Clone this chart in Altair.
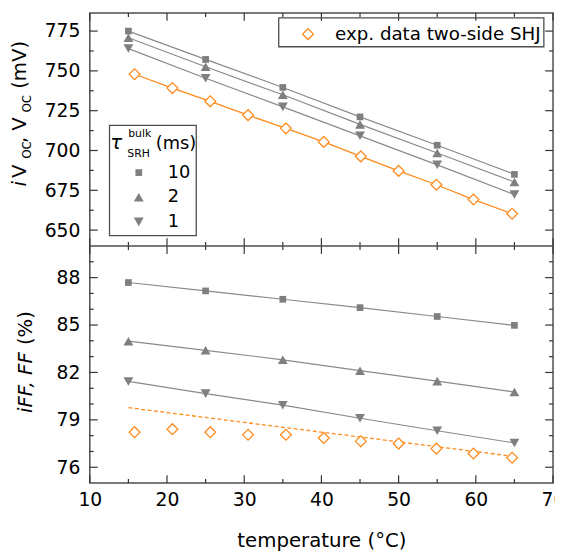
import altair as alt
import pandas as pd

# ---------------- data ----------------
T_SIM = [15, 25, 35, 45, 55, 65]
TAU_LABELS = ["10", "2", "1"]

VOC_10 = [775.0, 757.2, 739.6, 721.1, 703.3, 685.0]
VOC_2 = [770.8, 752.6, 735.0, 716.4, 698.4, 680.2]
VOC_1 = [764.0, 745.4, 727.4, 709.2, 691.0, 672.3]

FF_10 = [87.69, 87.16, 86.63, 86.10, 85.54, 84.98]
FF_2 = [83.98, 83.40, 82.80, 82.11, 81.45, 80.76]
FF_1 = [81.43, 80.66, 79.93, 79.10, 78.31, 77.54]

T_EXP = [15.8, 20.7, 25.6, 30.5, 35.4, 40.3, 45.1, 50.0, 54.9, 59.7, 64.7]
VOC_EXP = [747.9, 739.2, 730.9, 722.2, 713.9, 705.4, 696.3, 687.2, 678.5, 669.2, 660.3]
FF_EXP = [78.22, 78.41, 78.22, 78.06, 78.06, 77.85, 77.64, 77.50, 77.18, 76.87, 76.60]
FF_EXP_SIM = [79.77, 79.15, 78.53, 77.92, 77.30, 76.68]

EXP_LABEL = "exp. data two-side SHJ"

X_MAJOR = [10, 20, 30, 40, 50, 60, 70]
X_MINOR = [15, 25, 35, 45, 55, 65]
VOC_MAJOR = [650, 675, 700, 725, 750, 775]
VOC_MINOR = [662.5, 687.5, 712.5, 737.5, 762.5]
FF_MAJOR = [76, 79, 82, 85, 88]
FF_MINOR = [77, 78, 80, 81, 83, 84, 86, 87, 89]

# ---------------- style / layout ----------------
FONT = "DejaVu Sans"
GRAY = "#7f7f7f"
ORANGE = "#ff8a1c"
FRAME = "#4d4d4d"
TICK = "#333333"
W, H = 470, 477
DIV = 236.5                      # pixel row of the panel divider
TOP_VIS = (640.0, 786.4)         # visible range of the upper panel
BOT_VIS = (75.0, 90.0)           # visible range of the lower panel
TOP_DOMAIN = [TOP_VIS[1] - (TOP_VIS[1] - TOP_VIS[0]) * H / DIV, TOP_VIS[1]]
BOT_DOMAIN = [BOT_VIS[0], BOT_VIS[0] + (BOT_VIS[1] - BOT_VIS[0]) * H / (H - DIV)]
SQUARE = "M-0.68,-0.68H0.68V0.68H-0.68Z"
MAJ, MIN = 8, 4

# ---------------- tables ----------------
def sim_table(arrs, col):
    rows = []
    for lab, arr in zip(TAU_LABELS, arrs):
        for t, v in zip(T_SIM, arr):
            rows.append({"T": t, col: v, "tau": lab})
    return pd.DataFrame(rows)

sim_top = sim_table([VOC_10, VOC_2, VOC_1], "V")
sim_bot = sim_table([FF_10, FF_2, FF_1], "F")
exp_top = pd.DataFrame({"T": T_EXP, "V": VOC_EXP, "src": EXP_LABEL})
exp_bot = pd.DataFrame({"T": T_EXP, "F": FF_EXP})
exp_bot_sim = pd.DataFrame({"T": T_SIM, "F": FF_EXP_SIM})
ONE = pd.DataFrame({"k": [0]})

# ---------------- encodings ----------------
XAXIS = alt.Axis(values=X_MAJOR, format="d", ticks=False, tickSize=0, domain=False, grid=False,
                 labelFont=FONT, labelFontSize=19, labelColor="black", labelPadding=8,
                 labelFlush=False, labelOverlap=False,
                 title="temperature (°C)", titleFont=FONT, titleFontSize=20,
                 titleFontWeight="normal", titleColor="black",
                 titleBaseline="alphabetic", titleY=64)
XSC = alt.Scale(domain=[10, 70], nice=False, zero=False)


def X():
    return alt.X("T:Q", scale=XSC, axis=XAXIS)


def Ytop():
    return alt.Y("V:Q", scale=alt.Scale(domain=TOP_DOMAIN, nice=False, zero=False),
                 axis=alt.Axis(orient="left", values=VOC_MAJOR, format="d", ticks=False, tickSize=0,
                               domain=False, grid=False, labelFont=FONT, labelFontSize=19,
                               labelColor="black", labelPadding=10, title=None))


def Ybot():
    return alt.Y("F:Q", scale=alt.Scale(domain=BOT_DOMAIN, nice=False, zero=False),
                 axis=alt.Axis(orient="left", values=FF_MAJOR, format="d", ticks=False, tickSize=0,
                               domain=False, grid=False, labelFont=FONT, labelFontSize=19,
                               labelColor="black", labelPadding=10, title=None))


SHAPE_SCALE = alt.Scale(domain=TAU_LABELS, range=[SQUARE, "triangle-up", "triangle-down"])
SHAPE_LEGEND = alt.Legend(orient="none", legendX=40.7, legendY=153, title=None, padding=0,
                          labelFont=FONT, labelFontSize=18, labelColor="black",
                          symbolSize=100, symbolFillColor=GRAY, symbolStrokeWidth=0,
                          symbolOffset=0, labelOffset=20.3, rowPadding=7)
EXP_LEGEND = alt.Legend(orient="none", legendX=212.2, legendY=12.25, title=None, padding=0,
                        labelFont=FONT, labelFontSize=18.5, labelColor="black", labelLimit=400,
                        symbolType="diamond", symbolSize=121, symbolFillColor="white",
                        symbolStrokeColor=ORANGE, symbolStrokeWidth=1.3,
                        symbolOffset=0, labelOffset=18.15)

# ---------------- upper panel ----------------
top_layers = [
    alt.Chart(exp_top).mark_line(color=ORANGE, strokeWidth=1.3).encode(x=X(), y=Ytop()),
    alt.Chart(sim_top).mark_line(color="#8a8a8a", strokeWidth=1.2).encode(x=X(), y=Ytop(), detail="tau:N"),
    alt.Chart(exp_top).mark_point(shape="diamond", size=121, filled=True, fill="white",
                                  strokeWidth=1.3, opacity=1).encode(
        x=X(), y=Ytop(),
        stroke=alt.Stroke("src:N", scale=alt.Scale(domain=[EXP_LABEL], range=[ORANGE]), legend=EXP_LEGEND)),
    alt.Chart(sim_top).mark_point(filled=True, size=100, color=GRAY, opacity=1).encode(
        x=X(), y=Ytop(), shape=alt.Shape("tau:N", scale=SHAPE_SCALE, legend=SHAPE_LEGEND)),
]
for vals, ln in [(VOC_MAJOR, MAJ), (VOC_MINOR, MIN)]:
    d = pd.DataFrame({"V": vals})
    top_layers.append(alt.Chart(d).mark_rule(color=TICK, strokeWidth=1.2).encode(
        y=Ytop(), x=alt.value(0), x2=alt.value(ln)))
    top_layers.append(alt.Chart(d).mark_rule(color=TICK, strokeWidth=1.2).encode(
        y=Ytop(), x=alt.value(W), x2=alt.value(W - ln)))
top = alt.layer(*top_layers)

# ---------------- lower panel ----------------
bot_layers = [
    alt.Chart(exp_bot_sim).mark_line(color=ORANGE, strokeWidth=1.3, strokeDash=[4, 2.5]).encode(x=X(), y=Ybot()),
    alt.Chart(sim_bot).mark_line(color="#8a8a8a", strokeWidth=1.2).encode(x=X(), y=Ybot(), detail="tau:N"),
    alt.Chart(exp_bot).mark_point(shape="diamond", size=121, filled=True, fill="white",
                                  stroke=ORANGE, strokeWidth=1.3, opacity=1).encode(x=X(), y=Ybot()),
    alt.Chart(sim_bot).mark_point(filled=True, size=100, color=GRAY, opacity=1).encode(
        x=X(), y=Ybot(), shape=alt.Shape("tau:N", scale=SHAPE_SCALE, legend=SHAPE_LEGEND)),
]
for vals, ln in [(FF_MAJOR, MAJ), (FF_MINOR, MIN)]:
    d = pd.DataFrame({"F": vals})
    bot_layers.append(alt.Chart(d).mark_rule(color=TICK, strokeWidth=1.2).encode(
        y=Ybot(), x=alt.value(0), x2=alt.value(ln)))
    bot_layers.append(alt.Chart(d).mark_rule(color=TICK, strokeWidth=1.2).encode(
        y=Ybot(), x=alt.value(W), x2=alt.value(W - ln)))
bottom = alt.layer(*bot_layers)

# ---------------- x ticks on every horizontal edge ----------------
extra = []
for vals, ln in [(X_MAJOR, MAJ), (X_MINOR, MIN)]:
    d = pd.DataFrame({"T": vals})
    for y0, sgn in [(0, 1), (DIV, -1), (DIV, 1), (H, -1)]:
        extra.append(alt.Chart(d).mark_rule(color=TICK, strokeWidth=1.2).encode(
            x=X(), y=alt.value(y0), y2=alt.value(y0 + sgn * ln)))

extra.append(alt.Chart(ONE).mark_rule(color=FRAME, strokeWidth=1.5).encode(
    x=alt.value(0), x2=alt.value(W), y=alt.value(DIV)))


def box(x0, x1, y0, y1):
    return alt.Chart(ONE).mark_rect(fillOpacity=0, stroke=FRAME, strokeWidth=1.3).encode(
        x=alt.value(x0), x2=alt.value(x1), y=alt.value(y0), y2=alt.value(y1))


extra += [box(191.7, 460.7, 5, 34.3), box(20, 108, 114, 226)]


def txt(s, x, y, size, italic=False, angle=0):
    return alt.Chart(ONE).mark_text(text=s, font=FONT, fontSize=size,
                                    fontStyle="italic" if italic else "normal", angle=angle,
                                    align="left", baseline="alphabetic", color="black").encode(
        x=alt.value(x), y=alt.value(y))


# y titles with sub/superscripts
extra += [
    txt("i", -64.3, 176, 20, italic=True, angle=270),
    txt("V", -64.3, 167.5, 20, angle=270),
    txt("OC", -59.3, 148, 12, angle=270),
    txt(",", -64.3, 132, 20, angle=270),
    txt("V", -64.3, 119.5, 20, angle=270),
    txt("OC", -59.3, 101, 12, angle=270),
    txt("(mV)", -64.3, 77, 20, angle=270),
    txt("iFF, FF", -58.5, 406, 20, italic=True, angle=270),
    txt("(%)", -58.5, 337, 20, angle=270),
    # legend title
    txt("τ", 20.7, 137.7, 20, italic=True),
    txt("bulk", 39, 126, 11),
    txt("SRH", 38, 146, 11),
    txt("(ms)", 67, 138, 18),
]

chart = alt.layer(top, bottom, *extra).resolve_scale(y="independent").properties(
    width=W, height=H,
    autosize=alt.AutoSizeParams(type="none"),
    padding={"left": 83, "top": 1, "right": 2, "bottom": 70},
).configure(font=FONT).configure_view(stroke=FRAME, strokeWidth=1.5)

chart.save("out.html", embed_options={"renderer": "svg", "actions": False})
